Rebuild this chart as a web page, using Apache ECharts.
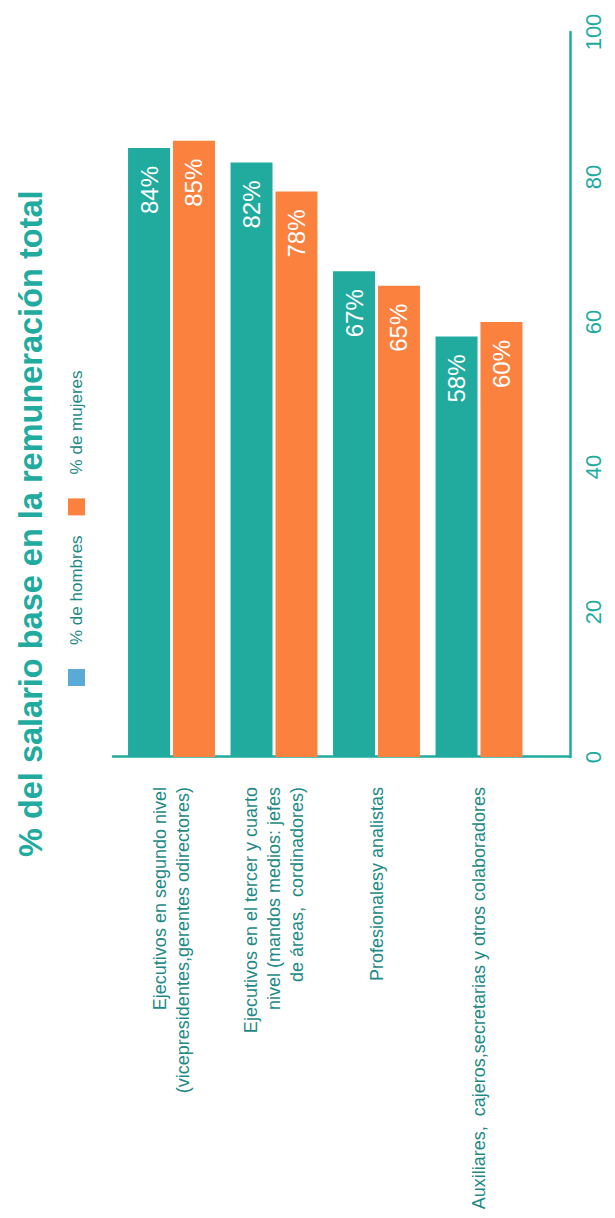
<!DOCTYPE html>
<html>
<head>
<meta charset="utf-8">
<script src="https://cdn.jsdelivr.net/npm/echarts@6/dist/echarts.min.js"></script>
<style>
  html, body { margin: 0; padding: 0; background: #fff; overflow: hidden; width: 615px; height: 1218px; }
  #chart { position: absolute; left: 0; top: 0; width: 1218px; height: 615px;
           transform-origin: 0 0; transform: translate(0, 1218px) rotate(-90deg); }
</style>
</head>
<body>
<div id="chart"></div>
<script>
const categories = [
  'Ejecutivos en segundo nivel\n(vicepresidentes,gerentes odirectores)',
  'Ejecutivos en el tercer y cuarto\nnivel (mandos medios: jefes\nde áreas,  cordinadores)',
  'Profesionalesy analistas',
  'Auxiliares,  cajeros,secretarias y otros colaboradores'
];
const seriesNames = ['% de hombres', '% de mujeres'];
const hombres = [84, 82, 67, 58];
const mujeres = [85, 78, 65, 60];
const valueAxisMin = 0, valueAxisMax = 100, valueAxisStep = 20;

const TEAL = '#21ab9f', ORANGE = '#fb813f', LABEL = '#1e8a85', LEGEND_BLUE = '#5aaad8';
const FONT = 'Liberation Sans, Arial, sans-serif';

const chart = echarts.init(document.getElementById('chart'), null, { renderer: 'svg', width: 1218, height: 615 });
chart.setOption({
  animation: false,
  textStyle: { fontFamily: FONT },
  title: {
    text: '% del salario base en la remuneración total',
    left: 356, top: 9,
    textStyle: { fontFamily: FONT, fontSize: 32.5, fontWeight: 'bold', color: TEAL }
  },
  legend: {
    left: 527, top: 63,
    itemWidth: 17, itemHeight: 17, itemGap: 20,
    icon: 'rect',
    textStyle: { fontFamily: FONT, fontSize: 17, color: LABEL, padding: [0, 0, 0, 19] },
    data: [
      { name: seriesNames[0], itemStyle: { color: LEGEND_BLUE } },
      { name: seriesNames[1], itemStyle: { color: ORANGE } }
    ]
  },
  grid: [
    { left: 461, right: 32, top: 113, bottom: 45, containLabel: false, outerBoundsMode: 'none' },
    { left: 461, right: 32, top: 120.25, bottom: 84.75, containLabel: false, outerBoundsMode: 'none' }
  ],
  xAxis: [
    {
      gridIndex: 0, type: 'value', min: valueAxisMin, max: valueAxisMax, interval: valueAxisStep,
      axisLine: { show: true, onZero: false, lineStyle: { color: TEAL, width: 2.5 } },
      axisTick: { show: false }, splitLine: { show: false },
      axisLabel: { color: TEAL, fontSize: 22, margin: 12, fontFamily: FONT }
    },
    {
      gridIndex: 1, type: 'value', min: valueAxisMin, max: valueAxisMax,
      show: false
    }
  ],
  yAxis: [
    {
      gridIndex: 0, type: 'value', min: 0, max: 1,
      axisLine: { show: true, onZero: false, lineStyle: { color: TEAL, width: 2.5 } },
      axisTick: { show: false }, splitLine: { show: false }, axisLabel: { show: false }
    },
    {
      gridIndex: 1, type: 'category', inverse: true, data: categories,
      axisLine: { show: false }, axisTick: { show: false },
      axisLabel: { color: LABEL, fontSize: 18, lineHeight: 23, margin: 30, align: 'right', fontFamily: FONT }
    }
  ],
  series: [
    {
      name: seriesNames[0], type: 'bar', xAxisIndex: 1, yAxisIndex: 1,
      data: hombres, barWidth: 42, barGap: '7%',
      itemStyle: { color: TEAL },
      label: { show: true, position: 'insideRight', distance: 18, formatter: '{c}%', color: '#fff', fontSize: 24, fontFamily: FONT }
    },
    {
      name: seriesNames[1], type: 'bar', xAxisIndex: 1, yAxisIndex: 1,
      data: mujeres, barWidth: 42, barGap: '7%',
      itemStyle: { color: ORANGE },
      label: { show: true, position: 'insideRight', distance: 18, formatter: '{c}%', color: '#fff', fontSize: 24, fontFamily: FONT }
    }
  ]
});
</script>
</body>
</html>
